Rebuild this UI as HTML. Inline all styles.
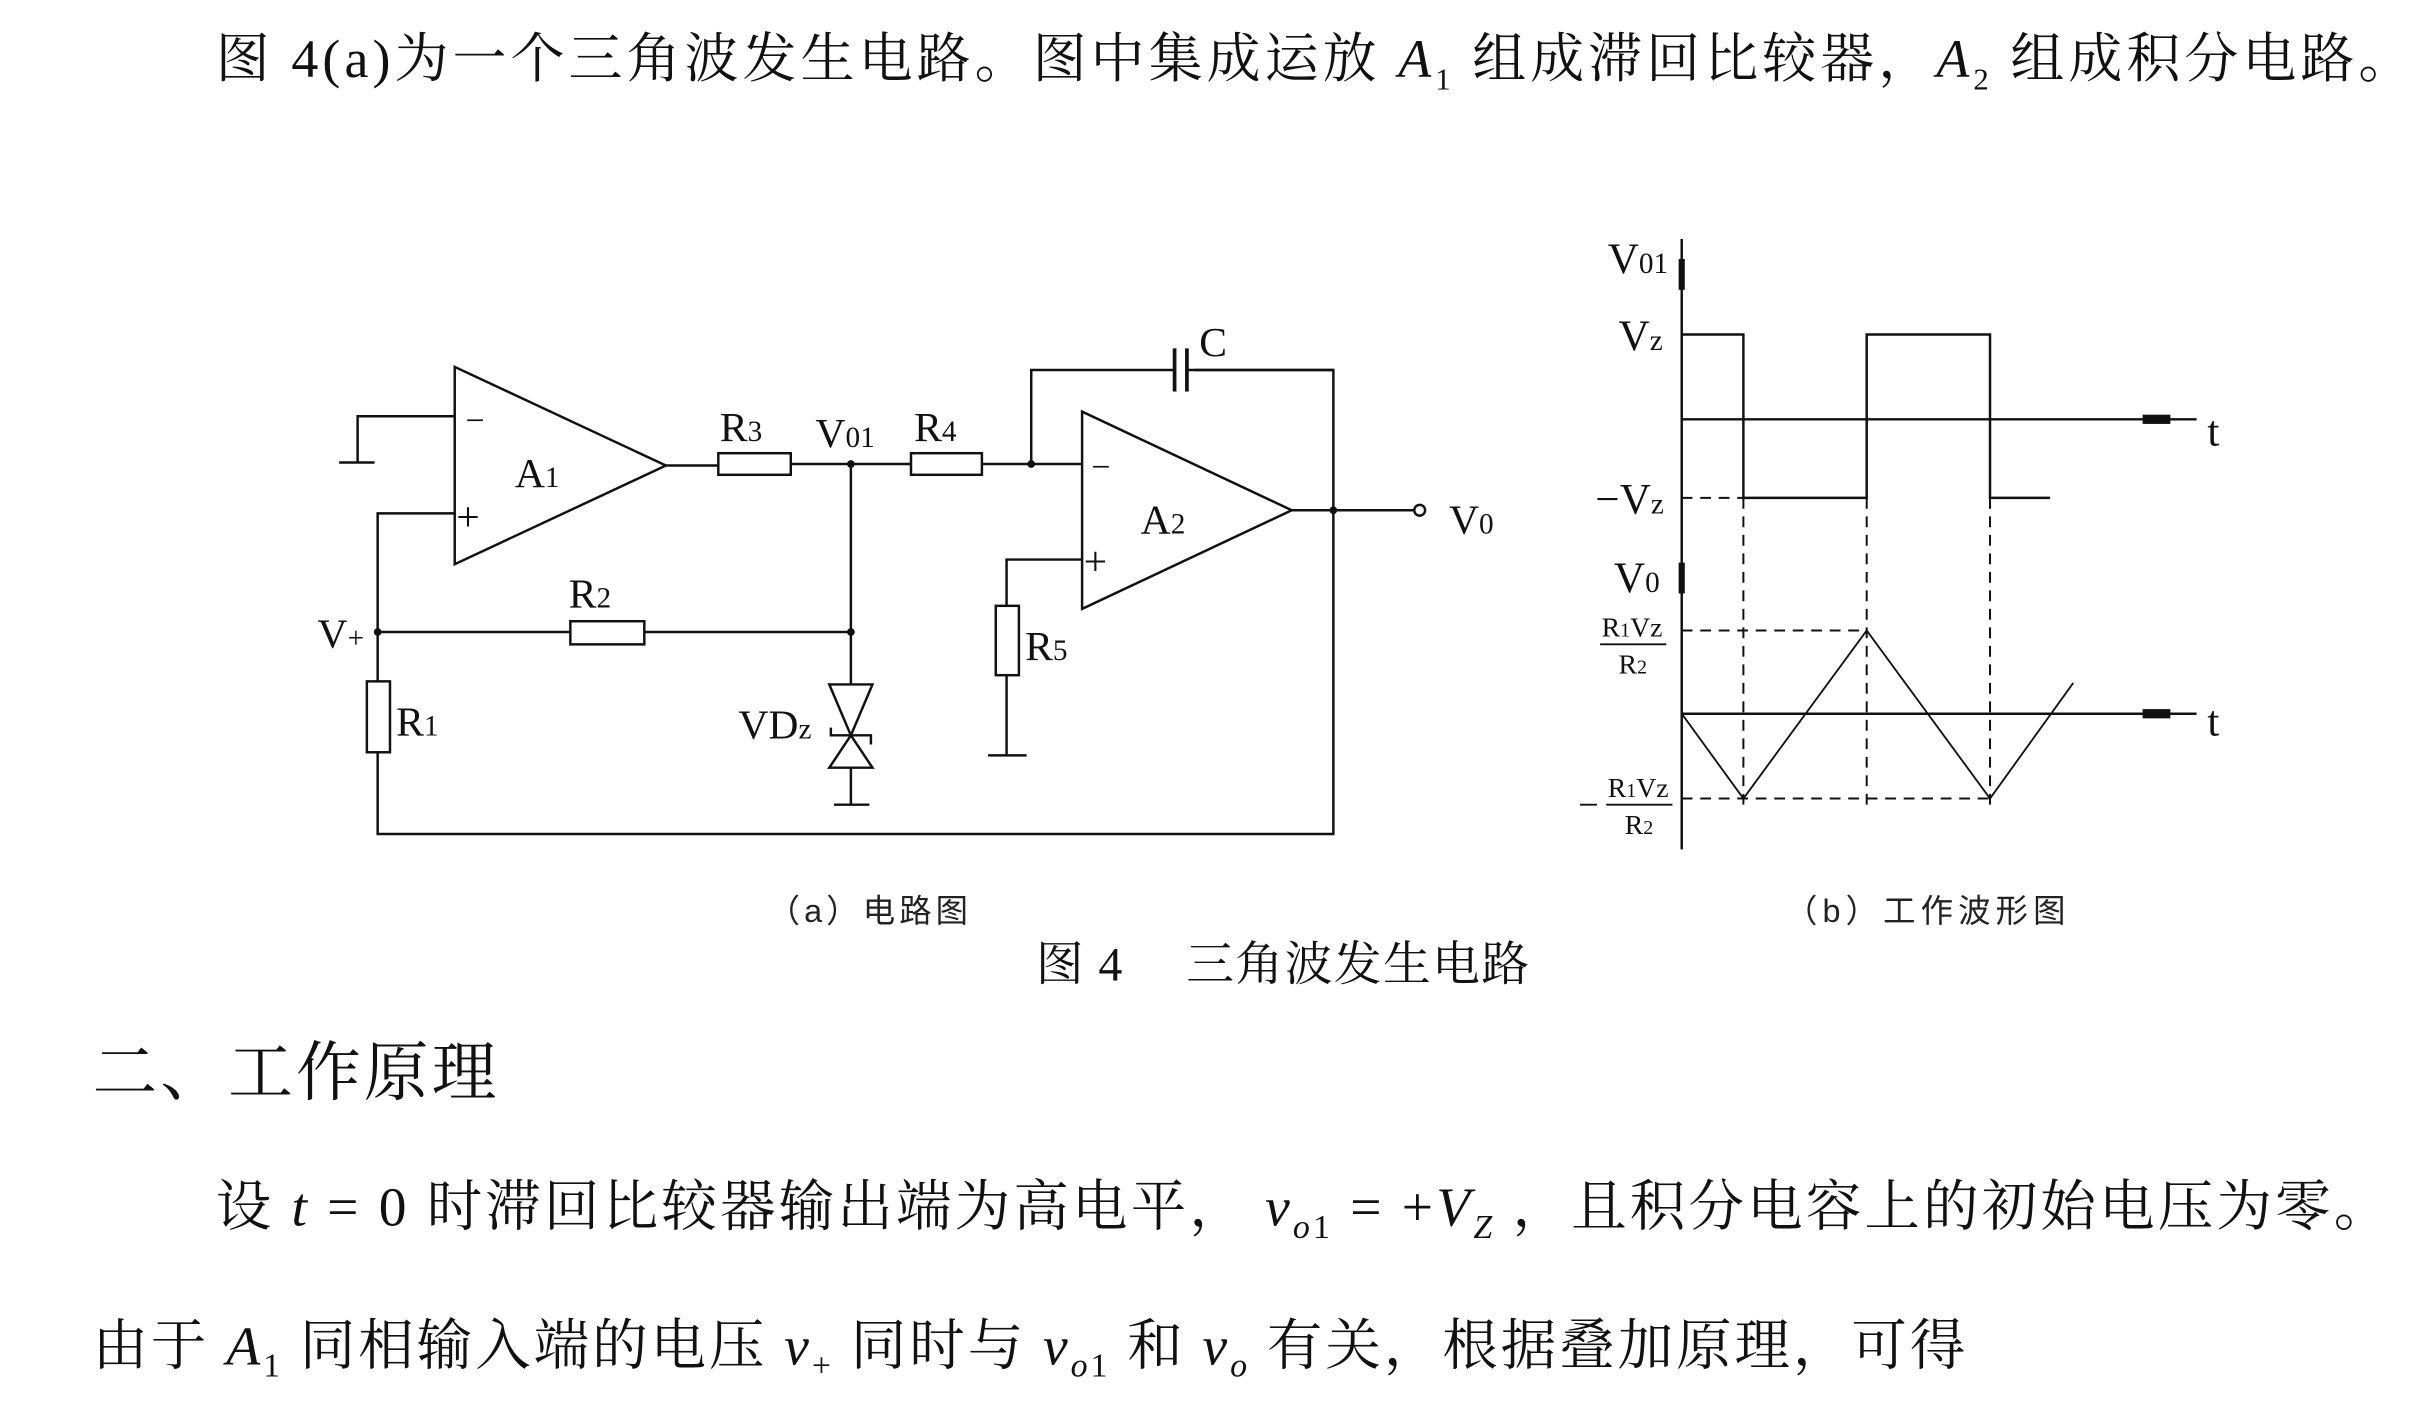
<!DOCTYPE html>
<html><head><meta charset="utf-8"><style>
html,body{margin:0;padding:0;background:#fff;}
svg{display:block;}
.s{font-family:"Liberation Serif","Noto Serif CJK SC",serif;fill:#111;}
.c{font-family:"Liberation Serif","Noto Serif CJK SC",serif;fill:#111;}
.k{font-family:"Liberation Sans","Noto Sans CJK SC",sans-serif;fill:#222;}
</style></head><body>
<svg width="2417" height="1427" viewBox="0 0 1568 925.7" preserveAspectRatio="none" xmlns="http://www.w3.org/2000/svg">
<rect width="1568" height="926" fill="#fff"/>
<text class="s" x="140" y="50" font-size="35" textLength="1425" lengthAdjust="spacing">图 4(a)为一个三角波发生电路。图中集成运放 <tspan font-style="italic">A</tspan><tspan font-size="20" dy="8">1</tspan><tspan dy="-8"> 组成滞回比较器，</tspan><tspan font-style="italic">A</tspan><tspan font-size="20" dy="8">2</tspan><tspan dy="-8"> 组成积分电路。</tspan></text>

<g stroke="#111" stroke-width="1.6" fill="none">
<polygon points="295,238 295,366 432,302"/>
<polyline points="295,270 232,270 232,300"/>
<line x1="220" y1="300" x2="243" y2="300"/>
<polyline points="295,333 245,333 245,541 865,541 865,240 775,240"/>
<line x1="245" y1="410" x2="370" y2="410"/>
<rect x="370" y="403" width="48" height="15"/>
<line x1="418" y1="410" x2="552" y2="410"/>
<rect x="238" y="442" width="15" height="46" fill="#fff"/>
<line x1="432" y1="302" x2="466" y2="302"/>
<rect x="466" y="294" width="47" height="14"/>
<line x1="513" y1="301" x2="591" y2="301"/>
<rect x="591" y="294" width="46" height="14"/>
<line x1="637" y1="301" x2="702" y2="301"/>
<line x1="552" y1="301" x2="552" y2="522"/>
<line x1="541" y1="522" x2="564" y2="522"/>
<polygon points="538,444 566,444 552,477" fill="#fff"/>
<polygon points="538,498 566,498 552,477" fill="#fff"/>
<polyline points="539,472 539,477 565,477 565,483"/>
<polyline points="669,301 669,240 762,240"/>
<line x1="762" y1="226" x2="762" y2="254" stroke-width="2.4"/>
<line x1="770" y1="226" x2="770" y2="254" stroke-width="2.4"/>
<line x1="770" y1="240" x2="865" y2="240"/>
<polygon points="702,267 702,395 838,331"/>
<line x1="838" y1="331" x2="917" y2="331"/>
<circle cx="921" cy="331" r="3.5"/>
<polyline points="702,363 653,363 653,393"/>
<rect x="646" y="393" width="15" height="45"/>
<line x1="653" y1="438" x2="653" y2="490"/>
<line x1="641" y1="490" x2="666" y2="490"/>
</g>
<g fill="#111">
<circle cx="245" cy="410" r="2.5"/><circle cx="552" cy="301" r="2.5"/><circle cx="552" cy="410" r="2.5"/>
<circle cx="669" cy="301" r="2.5"/><circle cx="865" cy="331" r="2.5"/>
</g>
<g class="c" font-size="27">
<text x="302" y="280" font-size="22">−</text>
<text x="296" y="344">+</text>
<text x="708" y="310" font-size="22">−</text>
<text x="703" y="373">+</text>
<text x="334" y="316">A<tspan font-size="19">1</tspan></text>
<text x="740" y="346">A<tspan font-size="19">2</tspan></text>
<text x="467" y="286">R<tspan font-size="19">3</tspan></text>
<text x="529" y="290">V<tspan font-size="19">01</tspan></text>
<text x="593" y="286">R<tspan font-size="19">4</tspan></text>
<text x="369" y="394">R<tspan font-size="19">2</tspan></text>
<text x="206" y="420">V<tspan font-size="19">+</tspan></text>
<text x="257" y="477">R<tspan font-size="19">1</tspan></text>
<text x="479" y="479">VD<tspan font-size="19">z</tspan></text>
<text x="665" y="428">R<tspan font-size="19">5</tspan></text>
<text x="778" y="231">C</text>
<text x="940" y="346">V<tspan font-size="19">0</tspan></text>
</g>

<g stroke="#111" stroke-width="1.6" fill="none">
<line x1="1091" y1="155" x2="1091" y2="551"/>
<line x1="1091" y1="272" x2="1425" y2="272"/>
<line x1="1091" y1="463" x2="1425" y2="463"/>
<polyline points="1091,217 1131,217 1131,323 1211,323 1211,217 1291,217 1291,323 1330,323"/>
<g stroke-dasharray="7,5" stroke-width="1.3">
<line x1="1091" y1="323" x2="1131" y2="323"/>
<line x1="1131" y1="323" x2="1131" y2="526"/>
<line x1="1211" y1="323" x2="1211" y2="526"/>
<line x1="1291" y1="323" x2="1291" y2="526"/>
<line x1="1091" y1="409" x2="1211" y2="409"/>
<line x1="1091" y1="518" x2="1291" y2="518"/>
</g>
<polyline points="1091,463 1131,518 1211,409 1291,518 1345,443" stroke-width="1.2"/>
</g>
<g fill="#111">
<rect x="1390" y="269" width="18" height="6"/><rect x="1390" y="460" width="18" height="6"/>
<rect x="1089" y="168" width="4" height="20"/><rect x="1089" y="365" width="4" height="20"/>
</g>
<g class="c" font-size="28">
<text x="1043" y="177">V<tspan font-size="19">01</tspan></text>
<text x="1050" y="227">V<tspan font-size="19">z</tspan></text>
<text x="1035" y="333">−V<tspan font-size="19">z</tspan></text>
<text x="1047" y="384">V<tspan font-size="19">0</tspan></text>
<text x="1432" y="289">t</text>
<text x="1432" y="477">t</text>
<g font-size="18">
<text x="1039" y="413">R<tspan font-size="13">1</tspan>Vz</text>
<text x="1050" y="437">R<tspan font-size="13">2</tspan></text>
<text x="1043" y="517">R<tspan font-size="13">1</tspan>Vz</text>
<text x="1054" y="541">R<tspan font-size="13">2</tspan></text>
</g>
</g>
<g stroke="#111" stroke-width="1.2"><line x1="1038" y1="418" x2="1081" y2="418"/><line x1="1042" y1="522" x2="1085" y2="522"/><line x1="1025" y1="522" x2="1036" y2="522"/></g>

<text class="k" x="498" y="598" font-size="21" textLength="130" lengthAdjust="spacing">（a）电路图</text>
<text class="k" x="1158" y="598" font-size="21" textLength="182" lengthAdjust="spacing">（b）工作波形图</text>
<text class="s" x="672" y="636" font-size="31" textLength="320" lengthAdjust="spacing">图 4　 三角波发生电路</text>
<text class="s" x="60" y="710" font-size="42" textLength="262" lengthAdjust="spacing">二、工作原理</text>
<text class="s" x="140" y="795" font-size="36" textLength="1410" lengthAdjust="spacing">设 <tspan font-style="italic">t</tspan> = 0 时滞回比较器输出端为高电平， <tspan font-style="italic">v</tspan><tspan font-size="22" dy="8" font-style="italic">o</tspan><tspan font-size="22">1</tspan><tspan dy="-8"> = +</tspan><tspan font-style="italic">V</tspan><tspan font-size="22" dy="8" font-style="italic">Z</tspan><tspan dy="-8"> ，且积分电容上的初始电压为零。</tspan></text>
<text class="s" x="60" y="885" font-size="36" textLength="1215" lengthAdjust="spacing">由于 <tspan font-style="italic">A</tspan><tspan font-size="22" dy="8">1</tspan><tspan dy="-8"> 同相输入端的电压 </tspan><tspan font-style="italic">v</tspan><tspan font-size="22" dy="8">+</tspan><tspan dy="-8"> 同时与 </tspan><tspan font-style="italic">v</tspan><tspan font-size="22" dy="8" font-style="italic">o</tspan><tspan font-size="22">1</tspan><tspan dy="-8"> 和 </tspan><tspan font-style="italic">v</tspan><tspan font-size="22" dy="8" font-style="italic">o</tspan><tspan dy="-8"> 有关，根据叠加原理，可得</tspan></text>
</svg>
</body></html>
